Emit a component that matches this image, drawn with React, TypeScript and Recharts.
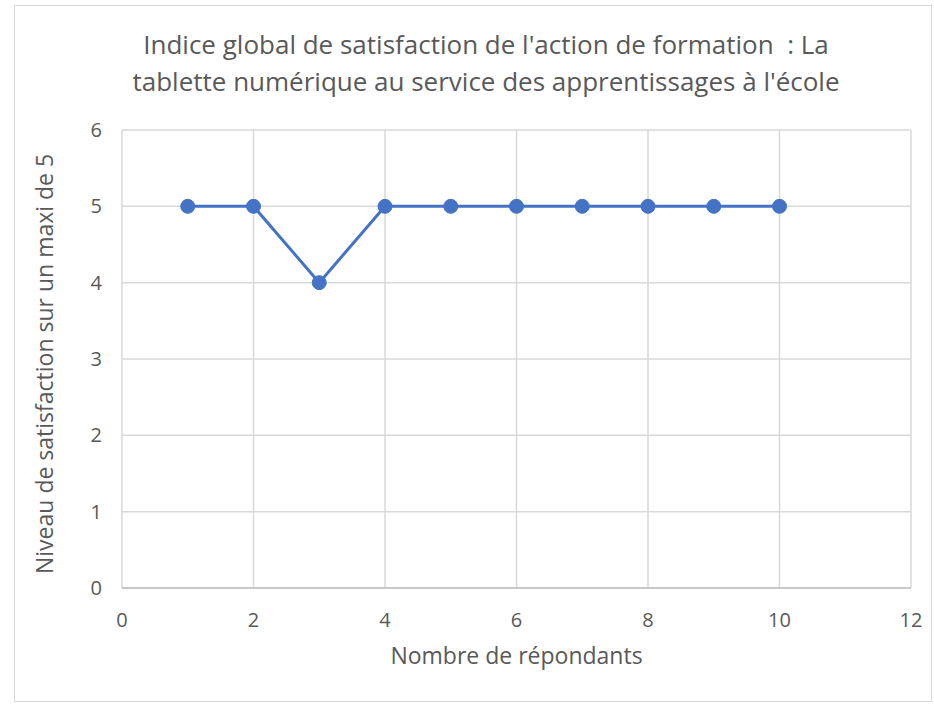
import React from 'react'
import { LineChart, Line, XAxis, YAxis, CartesianGrid } from 'recharts'

// respondent numbers and their satisfaction score (max 5)
const respondents = [1, 2, 3, 4, 5, 6, 7, 8, 9, 10]
const scores = [5, 5, 4, 5, 5, 5, 5, 5, 5, 5]
const xTicks = [0, 2, 4, 6, 8, 10, 12]
const yTicks = [0, 1, 2, 3, 4, 5, 6]

const data = respondents.map((r, i) => ({ x: r, y: scores[i] }))

const font = 'Open Sans, sans-serif'
const grey = '#595959'

const App: React.FC = () => {
  return (
    <div style={{ position: 'absolute', left: 0, top: 0, width: 934, height: 704, background: '#fff', fontFamily: font }}>
      <div style={{ position: 'absolute', left: 14, top: 5, width: 918, height: 697, border: '1px solid #d9d9d9', boxSizing: 'border-box' }} />
      <div style={{ position: 'absolute', left: 0, top: 26, width: 972, textAlign: 'center', fontSize: 26, lineHeight: '37px', color: grey }}>
        Indice global de satisfaction de l'action de formation&nbsp; : La
        <br />
        tablette numérique au service des apprentissages à l'école
      </div>
      <LineChart width={934} height={704} data={data} margin={{ top: 130, right: 23, bottom: 30, left: 62 }}>
        <CartesianGrid stroke="#d9d9d9" strokeWidth={1.5} />
        <XAxis
          type="number"
          dataKey="x"
          domain={[0, 12]}
          ticks={xTicks}
          height={86}
          stroke="#bfbfbf"
          strokeWidth={1.5}
          tickLine={false}
          tick={{ fill: grey, fontSize: 20, fontFamily: font }}
          tickMargin={19}
          label={{ value: 'Nombre de répondants', position: 'insideBottom', offset: 10, fill: grey, fontSize: 23, fontFamily: font }}
        />
        <YAxis
          type="number"
          domain={[0, 6]}
          ticks={yTicks}
          width={60}
          stroke="#bfbfbf"
          strokeWidth={1.5}
          axisLine={false}
          tickLine={false}
          tick={{ fill: grey, fontSize: 20, fontFamily: font }}
          tickMargin={14}
          label={{ value: 'Niveau de satisfaction sur un maxi de 5', angle: -90, position: 'insideLeft', offset: -17, dy: 215, fill: grey, fontSize: 23, fontFamily: font }}
        />
        <Line
          type="linear"
          dataKey="y"
          stroke="#4472c4"
          strokeWidth={3}
          dot={{ r: 7, fill: '#4472c4', stroke: '#4472c4', strokeWidth: 1 }}
          activeDot={false}
          isAnimationActive={false}
        />
      </LineChart>
    </div>
  )
}

export default App
